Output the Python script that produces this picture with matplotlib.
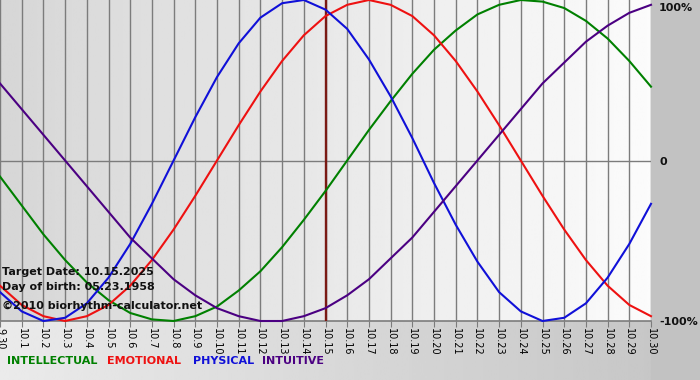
import numpy as np
import matplotlib
matplotlib.use("Agg")
import matplotlib.pyplot as plt

# Day labels along the bottom (09.30 .. 10.30)
day_labels = ["9.30"] + [f"10.{d}" for d in range(1, 31)]

# Curve values, one per day
physical = [-0.82, -0.94, -1.00, -0.98, -0.89, -0.73, -0.52, -0.27, 0.00, 0.27,
            0.52, 0.73, 0.89, 0.98, 1.00, 0.94, 0.82, 0.63, 0.40, 0.14,
            -0.14, -0.40, -0.63, -0.82, -0.94, -1.00, -0.98, -0.89, -0.73, -0.52,
            -0.27]
emotional = [-0.78, -0.90, -0.97, -1.00, -0.97, -0.90, -0.78, -0.62, -0.43, -0.22,
             0.00, 0.22, 0.43, 0.62, 0.78, 0.90, 0.97, 1.00, 0.97, 0.90,
             0.78, 0.62, 0.43, 0.22, 0.00, -0.22, -0.43, -0.62, -0.78, -0.90,
             -0.97]
intellectual = [-0.10, -0.28, -0.46, -0.62, -0.76, -0.87, -0.95, -0.99, -1.00, -0.97,
                -0.91, -0.81, -0.69, -0.54, -0.37, -0.19, 0.00, 0.19, 0.37, 0.54,
                0.69, 0.81, 0.91, 0.97, 1.00, 0.99, 0.95, 0.87, 0.76, 0.62,
                0.46]
intuitive = [0.48, 0.32, 0.16, 0.00, -0.16, -0.32, -0.48, -0.61, -0.74, -0.84,
             -0.92, -0.97, -1.00, -1.00, -0.97, -0.92, -0.84, -0.74, -0.61, -0.48,
             -0.32, -0.16, 0.00, 0.16, 0.32, 0.48, 0.61, 0.74, 0.84, 0.92,
             0.97]
target_index = 15  # 10.15

series_names = ["INTELLECTUAL", "EMOTIONAL", "PHYSICAL", "INTUITIVE"]
series_colors = ["#008000", "#ee1111", "#1010d8", "#4b0082"]

W, H = 700, 380


def fx(x):
    return x / W


def fy(y):
    return 1 - y / H


fig = plt.figure(figsize=(7, 3.8), dpi=100, facecolor="#c4c4c4")

# bottom strip gradient
bg = fig.add_axes([0, 0, 1, 1], zorder=-10)
grad = np.linspace(0.92, 0.77, 256)[None, :]
bg.imshow(grad, cmap="gray", vmin=0, vmax=1, aspect="auto", extent=[0, 1, 0, 1])
bg.axis("off")
bg.add_patch(plt.Rectangle((651 / W, 0), 1, 1, color="#c2c2c2", zorder=2))

ax = fig.add_axes([0, fy(321), fx(651), 321 / H])
x = np.arange(len(day_labels))
ax.set_xlim(0, len(day_labels) - 1)
ax.set_ylim(-1, 1)

# plot area gradient
pg = np.linspace(0.84, 0.985, 256)[None, :]
ax.imshow(pg, cmap="gray", vmin=0, vmax=1, aspect="auto",
          extent=[0, len(day_labels) - 1, -1, 1], zorder=0)

for xi in x:
    ax.axvline(xi, color="#7c7c7c", lw=1.0, zorder=1)
ax.axhline(0, color="#7c7c7c", lw=1.0, zorder=1)
ax.axhline(-1, color="#7c7c7c", lw=1.2, zorder=1, clip_on=False)
ax.axvline(target_index, color="#7a1a14", lw=1.7, zorder=2)

for vals, col in zip([intellectual, emotional, physical, intuitive], series_colors):
    ax.plot(x, vals, color=col, lw=1.5, zorder=3, clip_on=False,
            solid_joinstyle="round")

for s in ax.spines.values():
    s.set_visible(False)
ax.set_yticks([])
ax.set_xticks(x)
ax.set_xticklabels(day_labels, rotation=-90, fontsize=7, color="#000000")
ax.tick_params(axis="x", length=4, width=0.8, color="#7c7c7c", pad=1)

# texts inside the plot
info = ["Target Date: 10.15.2025", "Day of birth: 05.23.1958"]
ax_txt_kw = dict(fontsize=8, fontweight="bold", color="#111111", va="center", ha="left")
fig.text(fx(2), fy(272), info[0], **ax_txt_kw)
fig.text(fx(2), fy(287), info[1], **ax_txt_kw)
fig.text(fx(2), fy(306), "\u00a92010 biorhythm-calculator.net", **ax_txt_kw)

# right axis labels
rk = dict(fontsize=8, fontweight="bold", color="#111111", va="center", ha="left")
fig.text(fx(659), fy(8), "100%", **rk)
fig.text(fx(659), fy(162), "0", **rk)
fig.text(fx(659), fy(322), "-100%", **rk)

# legend
leg_x = [7, 107, 193, 262]
for name, col, lx in zip(series_names, series_colors, leg_x):
    fig.text(fx(lx), fy(361), name, fontsize=8, fontweight="bold", color=col,
             va="center", ha="left")

fig.savefig("out.png", dpi=100, facecolor=fig.get_facecolor())
